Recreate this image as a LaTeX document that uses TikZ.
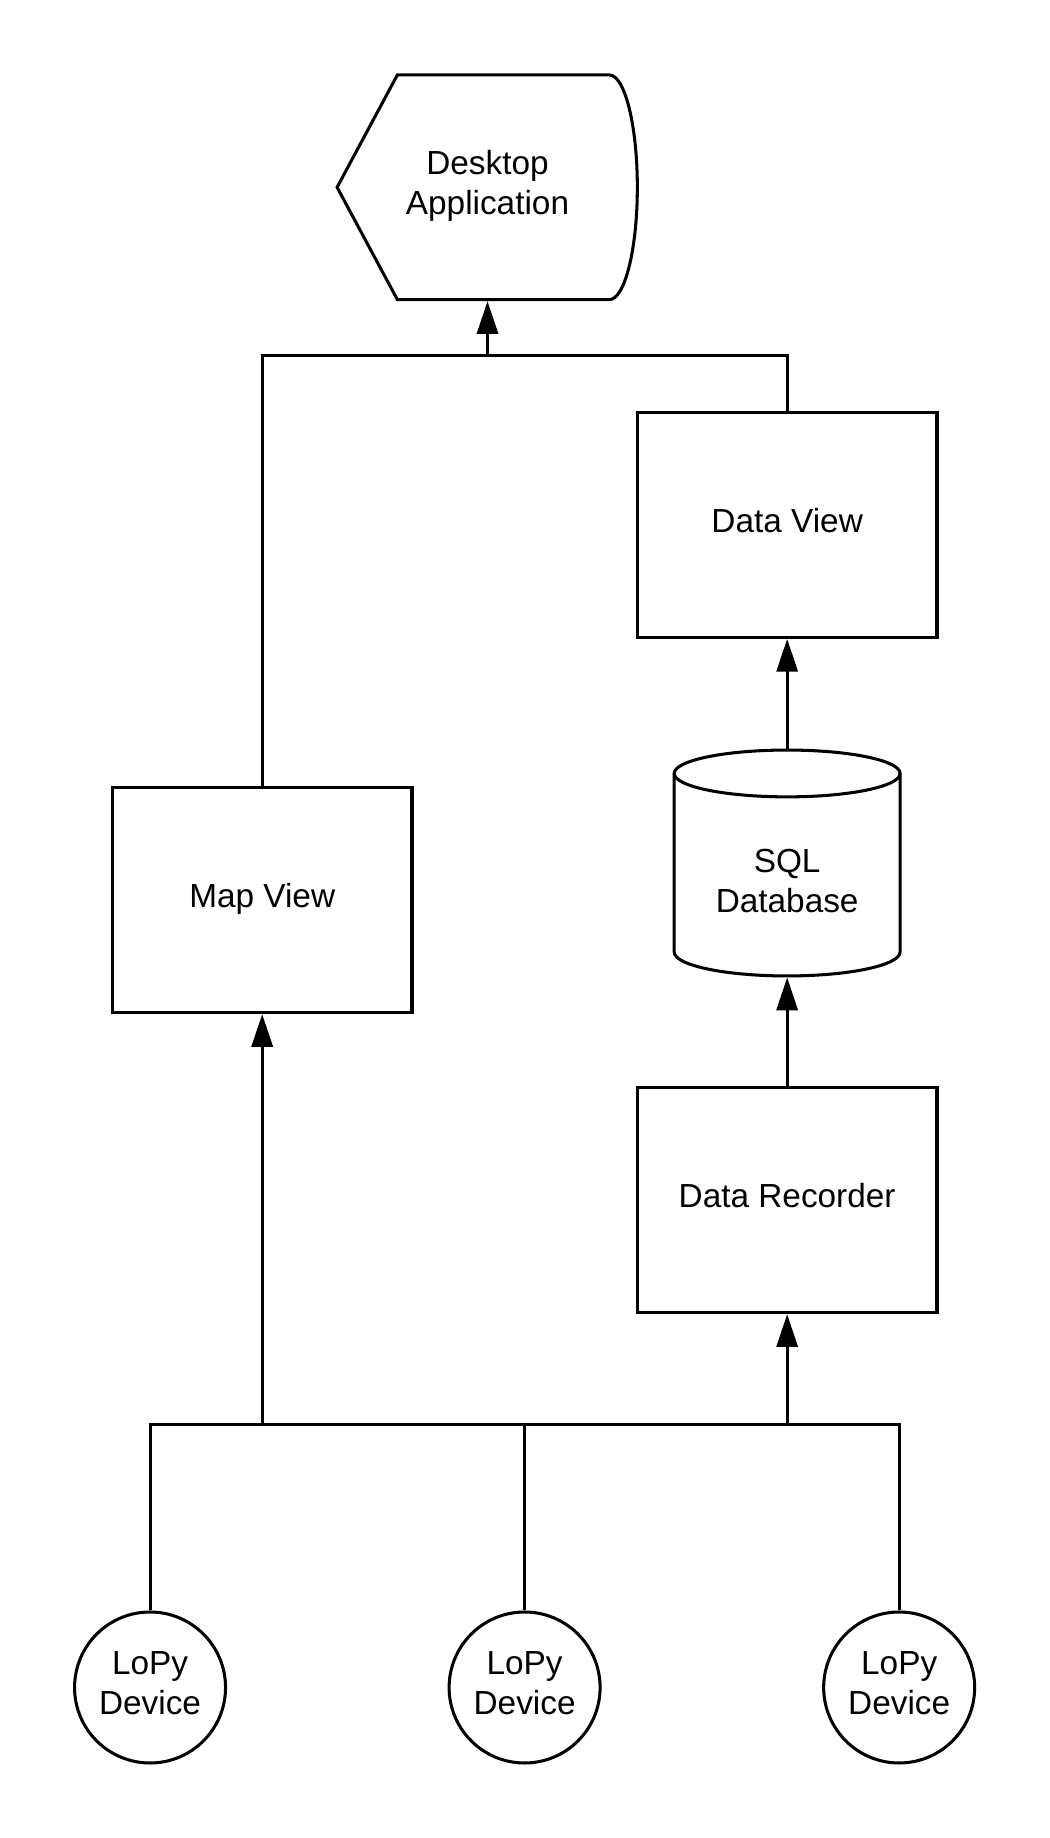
\documentclass[tikz,border=0pt]{standalone}
\usepackage{fontspec}
\setmainfont{Liberation Sans}
\usetikzlibrary{arrows.meta}
\newcommand{\lblfont}{\fontsize{28.5}{34}\selectfont}
\begin{document}
\begin{tikzpicture}[x=1pt,y=-1pt,line width=2.6pt,
  box/.style={draw,rectangle,minimum width=256pt,minimum height=192.5pt,inner sep=0pt,font=\lblfont,align=center,text depth=8pt},
  helper/.style={rectangle,inner sep=0pt,font=\lblfont,align=center,text depth=8pt},
  device/.style={draw,circle,minimum size=129pt,inner sep=0pt,font=\lblfont,align=center,text depth=8pt},
  arr/.style={-{Triangle[length=28pt,width=18pt]}}]
\useasboundingbox (0,0) rectangle (897,1570.3);
% Desktop application (display shape)
\node[helper,minimum width=256pt,minimum height=192pt] (app) at (416.5,160) {Desktop\\Application};
\draw (288,160) -- (339.5,64) -- (520.5,64) arc[start angle=-90,end angle=90,x radius=24,y radius=96] -- (339.5,256) -- cycle;
% boxes
\node[box] (dv) at (672.5,448.3) {Data View};
\node[box] (map) at (224,768.8) {Map View};
\node[box] (rec) at (672.5,1025.2) {Data Recorder};
% SQL database cylinder
\node[helper,minimum width=193pt,minimum height=193pt] (sql) at (672.5,737.3) {};
\draw (576,660.8) -- (576,813.3) arc[start angle=180,end angle=0,x radius=96.5,y radius=20.5] -- (769,660.8);
\draw (672.5,660.8) ellipse[x radius=96.5,y radius=20];
\node[helper] (sqltxt) at (672.5,756.7) {SQL\\Database};
% devices
\node[device] (l1) at (128.2,1441.7) {LoPy\\Device};
\node[device] (l2) at (448.2,1441.7) {LoPy\\Device};
\node[device] (l3) at (768.2,1441.7) {LoPy\\Device};
% junctions
\coordinate (jtop) at (416.5,304);
\coordinate (jbot) at (448.2,1217.4);
% top bus
\draw (map.north) -- (map.north |- jtop) -- (dv.north |- jtop) -- (dv.north);
\draw[arr] (jtop) -- (app.south);
\draw[arr] (sql.north) -- (dv.south);
\draw[arr] (rec.north) -- (sql.south);
% bottom bus
\draw (l1.north) -- (l1.north |- jbot) -- (l3.north |- jbot) -- (l3.north);
\draw (l2.north) -- (jbot);
\draw[arr] (map.south |- jbot) -- (map.south);
\draw[arr] (rec.south |- jbot) -- (rec.south);
\end{tikzpicture}
\end{document}
